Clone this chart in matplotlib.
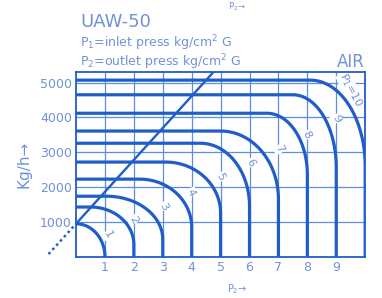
import numpy as np
import matplotlib.pyplot as plt

# inlet pressure P1 (kg/cm2 G) for each curve
p1 = [1, 2, 3, 4, 5, 6, 7, 8, 9, 10]
# choked (max) flow, kg/h
q_max = [950, 1430, 1740, 2230, 2720, 3260, 3610, 4120, 4650, 5070]
# P2 where the flat part ends
p2_knee = [0.0, 0.5, 1.05, 2.2, 3.1, 4.3, 5.0, 6.6, 7.5, 8.1]
# flow where the curve has turned vertical at P2 = P1
q_knee = [0, 350, 500, 850, 1250, 1450, 1650, 2350, 2550, 2600]

# critical line (and its dotted extension)
crit_p2 = [0.0, 4.75]
crit_q = [950, 5300]
crit_ext_p2 = [-0.95, 0.0]
crit_ext_q = [80, 950]

# curve labels: text, P2, flow
lab_text = ["1", "2", "3", "4", "5", "6", "7", "8", "9", "P$_1$=10"]
lab_x = [1.1, 1.97, 3.02, 3.98, 5.0, 6.05, 7.03, 7.97, 9.0, 9.5]
lab_y = [630, 1060, 1450, 1850, 2290, 2710, 3090, 3490, 3970, 4780]

xticks = [1, 2, 3, 4, 5, 6, 7, 8, 9]
yticks = [1000, 2000, 3000, 4000, 5000]

line_c = "#1f5ec9"
grid_c = "#5d8ee0"
text_c = "#6f92d8"

fig = plt.figure(figsize=(3.82, 2.98), dpi=100)
ax = fig.add_axes([0.199, 0.138, 0.757, 0.620])
ax.set_xlim(0, 10)
ax.set_ylim(0, 5300)

for x in xticks:
    ax.axvline(x, color=grid_c, lw=0.9, zorder=1)
for y in yticks:
    ax.axhline(y, color=grid_c, lw=0.9, zorder=1)

# flow curves: flat part, rounded corner, vertical drop
for P, Q, xk, yk in zip(p1, q_max, p2_knee, q_knee):
    t = np.linspace(0, np.pi / 2, 60)
    cx = xk + (P - xk) * np.sin(t)
    cy = yk + (Q - yk) * np.cos(t)
    xs = np.concatenate([[0], cx, [P]])
    ys = np.concatenate([[Q], cy, [0]])
    ax.plot(xs, ys, color=line_c, lw=2.3, solid_capstyle="butt", zorder=3)

ax.plot(crit_p2, crit_q, color=line_c, lw=1.7, zorder=3)
ax.plot(crit_ext_p2, crit_ext_q, color=line_c, lw=1.8, ls=(0, (1, 1.3)),
        clip_on=False, zorder=3)

for t, x, y in zip(lab_text, lab_x, lab_y):
    ax.text(x, y, t, color=text_c, fontsize=8, rotation=-62,
            ha="center", va="center", zorder=2,
            bbox=dict(facecolor="white", edgecolor="none", pad=0.5))

ax.set_xticks(xticks)
ax.set_xticklabels([str(v) for v in xticks])
ax.set_yticks(yticks)
ax.set_yticklabels([str(v) for v in yticks])
ax.tick_params(colors=text_c, labelsize=9, length=0, pad=3)
for s in ax.spines.values():
    s.set_color(line_c)
    s.set_linewidth(1.3)

ax.set_ylabel("Kg/h\u2192", color=text_c, fontsize=11, labelpad=6)

fig.text(0.21, 0.925, "UAW-50", color=text_c, fontsize=13, va="center")
fig.text(0.21, 0.855, "P$_1$=inlet press kg/cm$^2$ G", color=text_c,
         fontsize=9, va="center")
fig.text(0.21, 0.792, "P$_2$=outlet press kg/cm$^2$ G", color=text_c,
         fontsize=9, va="center")
fig.text(0.955, 0.792, "AIR", color=text_c, fontsize=12, ha="right", va="center")
fig.text(0.62, 0.03, "P$_2$\u2192", color=text_c, fontsize=7, ha="center", va="center")
fig.text(0.62, 0.997, "P$_2$\u2192", color=text_c, fontsize=6, ha="center", va="top")

fig.savefig("out.png", dpi=100)
